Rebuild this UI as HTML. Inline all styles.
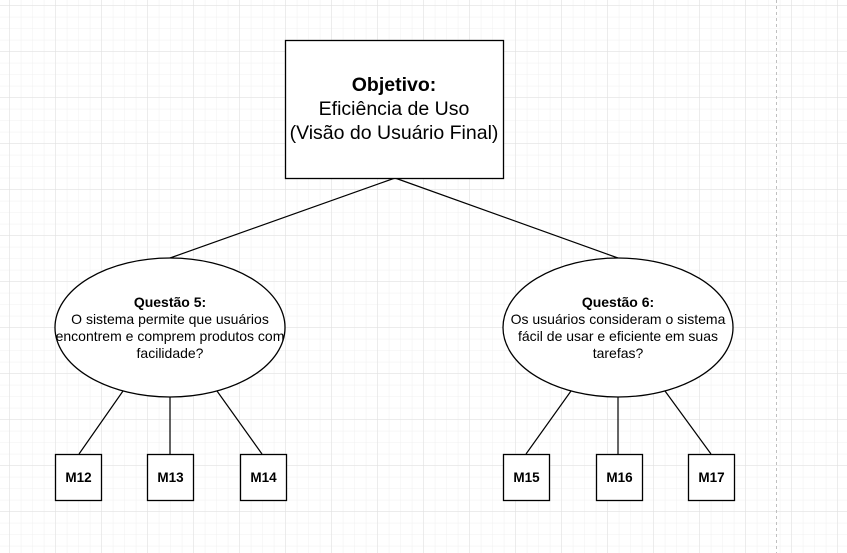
<!DOCTYPE html>
<html><head><meta charset="utf-8"><style>
html,body{margin:0;padding:0;background:#fff;}
svg{display:block;font-family:"Liberation Sans",Arial,sans-serif;}
</style></head><body>
<svg width="847" height="553" viewBox="0 0 847 553" xmlns="http://www.w3.org/2000/svg">
<defs>
<pattern id="minor" x="9.3" y="5.3" width="11.5" height="11.5" patternUnits="userSpaceOnUse">
<path d="M0 0H11.5M0 0V11.5" stroke="#f0f0f0" stroke-width="1" fill="none"/>
</pattern>
<pattern id="major" x="9.3" y="5.3" width="46" height="46" patternUnits="userSpaceOnUse">
<path d="M0 0H46M0 0V46" stroke="#e0e0e0" stroke-width="1" fill="none"/>
</pattern>
</defs>
<rect width="847" height="553" fill="url(#minor)"/>
<rect width="847" height="553" fill="url(#major)"/>
<line x1="776.5" y1="0" x2="776.5" y2="553" stroke="#c0c0c0" stroke-dasharray="3,3"/>
<g stroke="#000" stroke-width="1.2" fill="none">
<line x1="395" y1="178" x2="170" y2="258"/>
<line x1="395" y1="178" x2="618" y2="258"/>
<line x1="123" y1="391" x2="79" y2="454"/>
<line x1="170" y1="397" x2="170" y2="454"/>
<line x1="217" y1="391" x2="262" y2="454"/>
<line x1="571" y1="391" x2="526" y2="454"/>
<line x1="618" y1="397" x2="618" y2="454"/>
<line x1="665" y1="391" x2="711" y2="454"/>
</g>
<g stroke="#000" stroke-width="1.3" fill="#fff">
<rect x="285.5" y="40.5" width="218" height="138"/>
<ellipse cx="170" cy="327.5" rx="115" ry="69.5"/>
<ellipse cx="618" cy="327.5" rx="115" ry="69.5"/>
<rect x="55.5" y="454.5" width="46" height="46"/>
<rect x="147.5" y="454.5" width="46" height="46"/>
<rect x="240.5" y="454.5" width="46" height="46"/>
<rect x="503.5" y="454.5" width="46" height="46"/>
<rect x="596.5" y="454.5" width="46" height="46"/>
<rect x="688.5" y="454.5" width="46" height="46"/>
</g>
<g fill="#000" text-anchor="middle">
<text x="394" y="91" font-size="19.5" font-weight="bold">Objetivo:</text>
<text x="394" y="115" font-size="19.5">Eficiência de Uso</text>
<text x="394" y="139" font-size="19.5">(Visão do Usuário Final)</text>
<g font-size="14">
<text x="170" y="307" font-weight="bold">Questão 5:</text>
<text x="170" y="324">O sistema permite que usuários</text>
<text x="170" y="341">encontrem e comprem produtos com</text>
<text x="170" y="358">facilidade?</text>
<text x="618" y="307" font-weight="bold">Questão 6:</text>
<text x="618" y="324">Os usuários consideram o sistema</text>
<text x="618" y="341">fácil de usar e eficiente em suas</text>
<text x="618" y="358">tarefas?</text>
</g>
<g font-size="13.5" font-weight="bold">
<text x="78.5" y="482">M12</text>
<text x="170.5" y="482">M13</text>
<text x="263.5" y="482">M14</text>
<text x="526.5" y="482">M15</text>
<text x="619.5" y="482">M16</text>
<text x="711.5" y="482">M17</text>
</g>
</g>
</svg>
</body></html>
